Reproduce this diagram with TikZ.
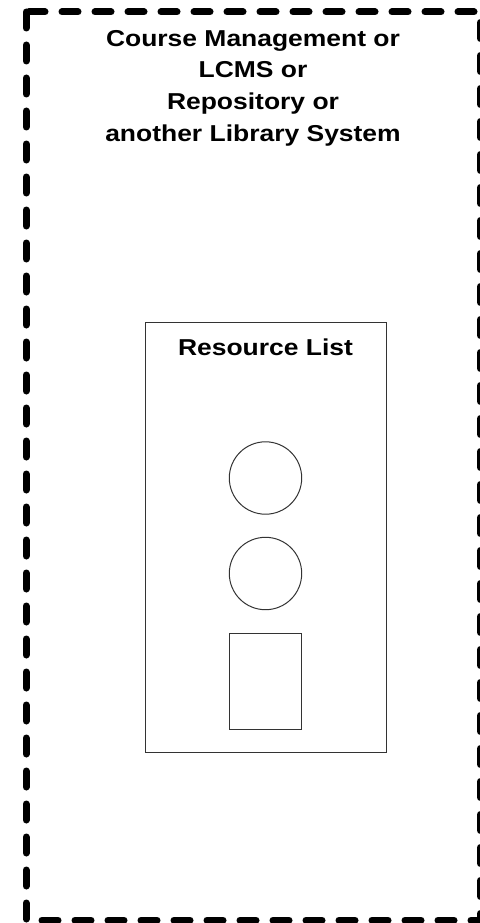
\documentclass[tikz,border=0pt]{standalone}
\usepackage{fontspec}
\setmainfont{Liberation Sans}[FakeStretch=1.15]
\usepackage{tikz}

\begin{document}
\begin{tikzpicture}[x=1pt,y=-1pt,
  outerbox/.style={line width=7pt,dash pattern=on 16pt off 17pt,line cap=round},
  listbox/.style={draw=black!80,line width=1pt},
  heading/.style={font=\bfseries\fontsize{23}{31.7}\selectfont,inner sep=0pt,align=center}]
  \useasboundingbox (0,0) rectangle (479,923);
  % outer system
  \draw[outerbox] (26,12) rectangle (480.5,920);
  \node[heading,anchor=north] (system) at (253,30)
    {Course Management or\\LCMS or\\Repository or\\another Library System};
  % resource list
  \draw[listbox] (145.7,322.7) rectangle (386,752);
  \node[heading,anchor=base] (listtitle) at (265.5,355.7) {Resource List};
  \draw[listbox] (265.5,478) circle (36.2);
  \draw[listbox] (265.5,573.5) circle (36.2);
  \draw[listbox] (229.3,633.3) rectangle (301.7,729);
\end{tikzpicture}
\end{document}
